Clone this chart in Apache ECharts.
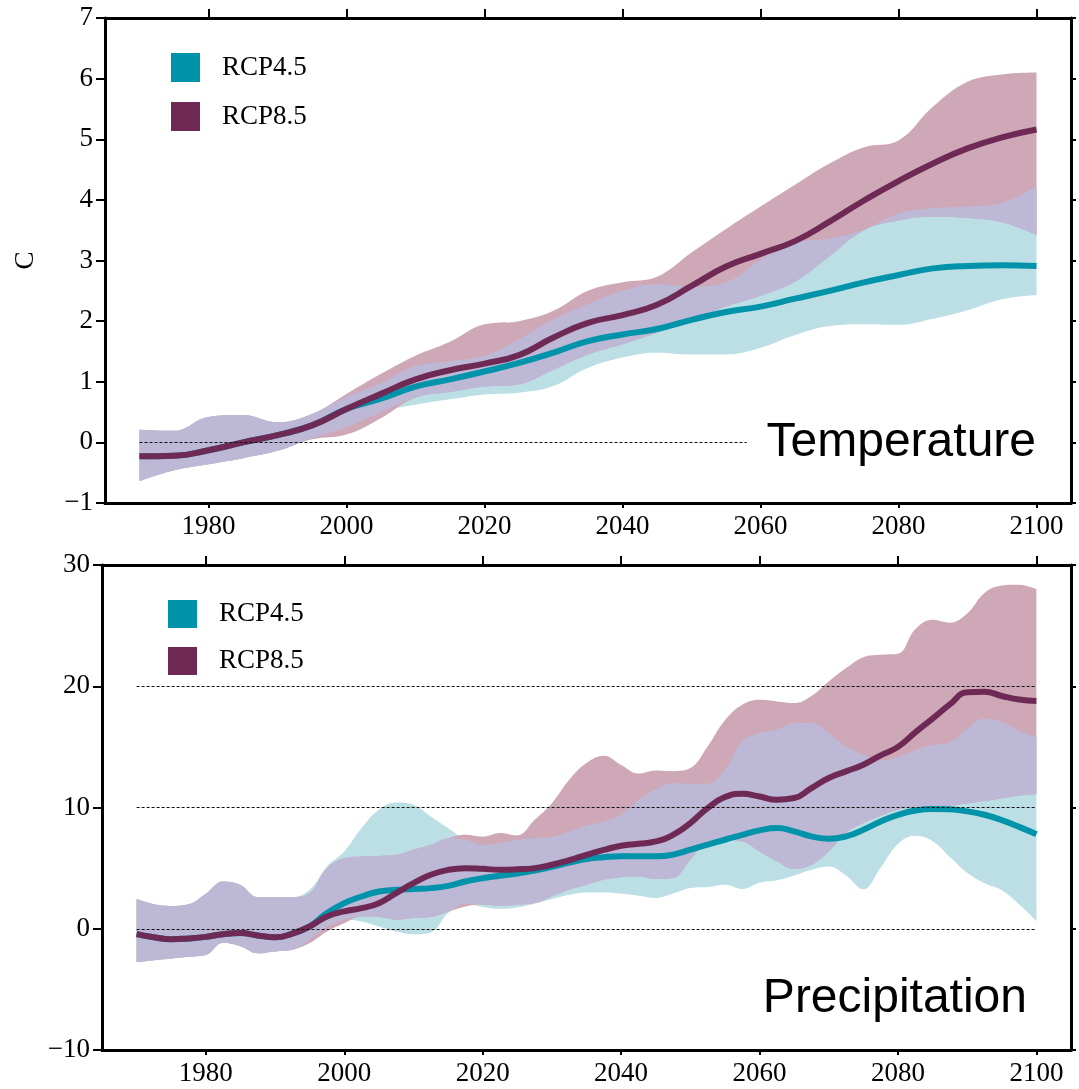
<!DOCTYPE html>
<html>
<head>
<meta charset="utf-8">
<script src="https://cdn.jsdelivr.net/npm/echarts@6/dist/echarts.min.js"></script>
<style>html,body{margin:0;padding:0;background:#fff}#c{width:1079px;height:1089px}</style>
</head>
<body>
<div id="c"></div>
<script>
// ---------- data ----------
const xTicks = [1980, 2000, 2020, 2040, 2060, 2080, 2100];
const tasYTicks = [-1, 0, 1, 2, 3, 4, 5, 6, 7];
const prYTicks = [-10, 0, 10, 20, 30];
const seriesNames = ['RCP4.5', 'RCP8.5'];
const panelTitles = ['Temperature', 'Precipitation'];
const axisNames = ['C', '%'];

const tasYears = [1970,1975,1980,1985,1990,1995,2000,2005,2010,2015,2020,2025,2030,2035,2040,2045,2050,2055,2060,2065,2070,2075,2080,2085,2090,2095,2100];
const tasMean45 = [-0.23,-0.22,-0.13,0.0,0.12,0.28,0.55,0.72,0.92,1.04,1.17,1.31,1.48,1.67,1.78,1.87,2.02,2.15,2.24,2.37,2.5,2.64,2.76,2.87,2.91,2.92,2.91];
const tasMean85 = [-0.23,-0.22,-0.13,0.0,0.12,0.28,0.55,0.8,1.04,1.19,1.3,1.44,1.73,1.97,2.1,2.27,2.58,2.9,3.11,3.32,3.64,3.99,4.31,4.6,4.85,5.03,5.16];
const tasHi45 = [0.21,0.19,0.42,0.45,0.33,0.47,0.75,0.98,1.26,1.34,1.43,1.7,2.03,2.28,2.5,2.61,2.57,2.64,3.01,3.3,3.36,3.51,3.77,3.86,3.89,3.95,4.22];
const tasLo45 = [-0.64,-0.46,-0.36,-0.26,-0.14,0.07,0.25,0.5,0.62,0.71,0.79,0.82,0.93,1.23,1.4,1.48,1.45,1.45,1.56,1.77,1.92,1.95,1.94,2.04,2.18,2.36,2.43];
const tasHi85 = [0.21,0.19,0.42,0.45,0.33,0.47,0.8,1.13,1.43,1.66,1.95,2.0,2.17,2.5,2.64,2.73,3.13,3.52,3.89,4.25,4.6,4.87,4.98,5.54,5.95,6.07,6.1];
const tasLo85 = [-0.64,-0.46,-0.36,-0.26,-0.14,0.05,0.13,0.4,0.74,0.83,0.92,0.96,1.2,1.45,1.62,1.81,2.02,2.24,2.42,2.65,3.07,3.5,3.66,3.72,3.7,3.63,3.42];
const tasRefLines = [[1970, 2058, 0]];

const prYears = [1970,1972.5,1975,1977.5,1980,1982.5,1985,1987.5,1990,1992.5,1995,1997.5,2000,2002.5,2005,2007.5,2010,2012.5,2015,2017.5,2020,2022.5,2025,2027.5,2030,2032.5,2035,2037.5,2040,2042.5,2045,2047.5,2050,2052.5,2055,2057.5,2060,2062.5,2065,2067.5,2070,2072.5,2075,2077.5,2080,2082.5,2085,2087.5,2090,2092.5,2095,2097.5,2100];
const prMean45 = [-0.44,-0.7,-0.87,-0.8,-0.67,-0.45,-0.35,-0.55,-0.7,-0.4,
  0.19,1.29,2.11,2.66,3.07,3.21,3.27,3.35,3.54,3.9,
  4.17,4.37,4.55,4.8,5.1,5.45,5.75,5.9,5.97,5.97,
  5.97,6.11,6.52,6.93,7.34,7.75,8.11,8.3,8.03,7.62,
  7.42,7.62,8.17,8.85,9.39,9.75,9.88,9.85,9.68,9.4,
  8.96,8.4,7.8];
const prMean85 = [-0.44,-0.7,-0.87,-0.8,-0.67,-0.45,-0.35,-0.55,-0.7,-0.4,
  0.19,1.01,1.43,1.7,2.11,2.94,3.76,4.45,4.86,5.0,
  4.94,4.86,4.9,5.0,5.28,5.65,6.1,6.5,6.85,7.01,
  7.2,7.75,8.72,9.95,10.86,11.13,10.91,10.64,10.78,11.6,
  12.43,12.98,13.53,14.3,15.0,16.2,17.33,18.5,19.5,19.55,
  19.2,18.9,18.78];
const prHi45 = [2.45,2.02,1.88,2.02,2.89,3.9,3.61,2.6,2.61,2.61,
  3.21,5.14,6.37,8.3,9.81,10.41,10.22,9.26,8.3,7.33,
  6.92,7.06,7.34,7.47,7.56,8.02,8.49,8.85,9.4,10.6,
  11.5,12.0,11.96,11.96,13.11,15.45,16.14,16.41,16.96,16.96,
  16.14,15.04,14.35,13.87,14.16,14.73,15.17,15.37,16.47,17.34,
  17.05,16.32,15.75];
const prLo45 = [-2.75,-2.6,-2.46,-2.31,-2.17,-1.16,-1.45,-2.02,-1.87,-1.74,
  -0.91,0.19,0.74,0.6,0.19,-0.22,-0.45,-0.3,1.3,2.06,
  1.8,1.65,1.76,2.06,2.45,2.8,3.0,3.0,2.9,2.72,
  2.53,2.9,3.36,3.44,3.63,3.28,3.8,4.0,4.4,4.87,
  5.14,4.4,3.26,5.05,7.0,7.66,7.22,5.92,4.62,3.76,
  3.18,2.02,0.63];
const prHi85 = [2.45,2.02,1.88,2.02,2.89,3.9,3.61,2.6,2.61,2.61,
  2.94,5.0,5.82,5.96,6.01,6.1,6.51,6.92,7.47,7.75,
  7.6,7.9,7.7,8.98,10.36,12.28,13.66,14.26,13.5,12.8,
  13.05,13.0,13.25,15.04,17.2,18.47,18.88,18.75,18.61,19.2,
  20.4,21.5,22.4,22.6,22.68,24.7,25.48,25.25,26.0,27.7,
  28.3,28.37,28.0];
const prLo85 = [-2.75,-2.6,-2.46,-2.31,-2.17,-1.16,-1.45,-2.02,-1.87,-1.74,
  -1.18,-0.22,0.46,1.01,0.96,0.74,0.88,0.96,1.4,1.84,
  2.0,1.89,1.98,2.12,2.66,3.21,3.63,4.04,4.25,4.3,
  4.1,4.18,5.69,7.2,7.34,7.2,6.38,5.56,4.92,5.28,
  6.38,7.89,8.72,9.3,9.82,9.97,10.11,10.17,10.34,10.54,
  10.75,10.98,11.12];
const prRefLines = [[1970, 2100, 0], [1970, 2100, 10], [1970, 2100, 20]];

// ---------- styles ----------
const C45 = '#0093a9', C85 = '#6e2a55';
const B45 = '#bbdfe4', B85 = '#cfa8b7', BOV = '#bdb8d6';
const SERIF = '"Liberation Serif", "Times New Roman", serif';
const SANS = '"Liberation Sans", Arial, sans-serif';

function pairs(xs, ys) { return xs.map((x, i) => [x, ys[i]]); }
// value first, year second: so the stacked dimension is the value (y) one
function pairsYX(xs, ys) { return xs.map((x, i) => [ys[i], x]); }
function minusFmt(v) { return v < 0 ? '\u2212' + (-v) : String(v); }

function band(ax, id, xs, lo, hi, color) {
  const common = {
    type: 'line', xAxisIndex: ax, yAxisIndex: ax, stack: id, stackStrategy: 'all',
    encode: { x: 1, y: 0 },
    symbol: 'none', smooth: 0.4, silent: true, emphasis: { disabled: true },
    lineStyle: { width: 0, opacity: 0 }
  };
  return [
    Object.assign({}, common, { name: id + '-lo', data: pairsYX(xs, lo) }),
    Object.assign({}, common, {
      name: id + '-hi',
      data: pairsYX(xs, hi.map((h, i) => Math.max(0, h - lo[i]))),
      areaStyle: { color: color, opacity: 1 }
    })
  ];
}

function panelSeries(ax, xs, m45, m85, lo45, hi45, lo85, hi85, refs, tag) {
  const loOv = lo45.map((v, i) => Math.max(v, lo85[i]));
  const hiOv = hi45.map((v, i) => Math.min(v, hi85[i]));
  return [].concat(
    band(ax, tag + 'b45', xs, lo45, hi45, B45),
    band(ax, tag + 'b85', xs, lo85, hi85, B85),
    band(ax, tag + 'bov', xs, loOv, hiOv, BOV),
    [
      { type: 'line', name: seriesNames[0], xAxisIndex: ax, yAxisIndex: ax, data: pairs(xs, m45),
        smooth: 0.5, symbol: 'none', color: C45, itemStyle: { color: C45 },
        lineStyle: { color: C45, width: 6 }, emphasis: { disabled: true }, silent: true },
      { type: 'line', name: seriesNames[1], xAxisIndex: ax, yAxisIndex: ax, data: pairs(xs, m85),
        smooth: 0.5, symbol: 'none', color: C85, itemStyle: { color: C85 },
        lineStyle: { color: C85, width: 6 }, emphasis: { disabled: true }, silent: true,
        markLine: {
          silent: true, symbol: 'none', z: 10, label: { show: false },
          lineStyle: { color: '#111', width: 1, type: [3, 2] },
          emphasis: { disabled: true },
          data: refs.map(r => [{ coord: [r[0], r[2]] }, { coord: [r[1], r[2]] }])
        } }
    ]
  );
}

function xAxes(gi) {
  return [
    { type: 'value', gridIndex: gi, min: 1965, max: 2105, position: 'bottom',
      axisLine: { show: true, onZero: false, lineStyle: { color: '#000', width: 3 } },
      axisTick: { show: true, inside: false, length: 5, customValues: xTicks, lineStyle: { color: '#000', width: 2 } },
      axisLabel: { customValues: xTicks, margin: 10, color: '#000', fontFamily: SERIF, fontSize: 27,
        formatter: v => String(v) },
      splitLine: { show: false } },
    { type: 'value', gridIndex: gi, min: 1965, max: 2105, position: 'top',
      axisLine: { show: true, onZero: false, lineStyle: { color: '#000', width: 3 } },
      axisTick: { show: true, inside: false, length: 9, customValues: xTicks, lineStyle: { color: '#000', width: 2 } },
      axisLabel: { show: false }, splitLine: { show: false } }
  ];
}

function yAxes(gi, min, max, ticks, name, nameGap) {
  return [
    { type: 'value', gridIndex: gi, min: min, max: max, position: 'left',
      axisLine: { show: true, onZero: false, lineStyle: { color: '#000', width: 3 } },
      axisTick: { show: true, inside: false, length: 9, customValues: ticks, lineStyle: { color: '#000', width: 2 } },
      axisLabel: { customValues: ticks, margin: 12, color: '#000', fontFamily: SERIF, fontSize: 27, formatter: minusFmt },
      splitLine: { show: false },
      name: name, nameLocation: 'middle', nameGap: nameGap, nameRotate: 90,
      nameTextStyle: { color: '#000', fontFamily: SERIF, fontSize: 27 } },
    { type: 'value', gridIndex: gi, min: min, max: max, position: 'right',
      axisLine: { show: true, onZero: false, lineStyle: { color: '#000', width: 3 } },
      axisTick: { show: true, inside: false, length: 5, customValues: ticks, lineStyle: { color: '#000', width: 2 } },
      axisLabel: { show: false }, splitLine: { show: false } }
  ];
}

function legendAt(left, top, size, gap) {
  return {
    left: left, top: top, orient: 'vertical', padding: 0, icon: 'rect',
    itemWidth: 29, itemHeight: size, itemGap: gap, selectedMode: false,
    itemStyle: { borderWidth: 0 },
    data: [
      { name: seriesNames[0], itemStyle: { color: C45, borderWidth: 0 } },
      { name: seriesNames[1], itemStyle: { color: C85, borderWidth: 0 } }
    ],
    textStyle: { color: '#000', fontFamily: SERIF, fontSize: 27, padding: [0, 0, 0, 17] }
  };
}

const chart = echarts.init(document.getElementById('c'), null, { renderer: 'canvas' });
chart.setOption({
  animation: false,
  backgroundColor: '#fff',
  grid: [
    { left: 105, top: 18, width: 966, height: 485, outerBoundsMode: 'none', containLabel: false },
    { left: 102, top: 565, width: 969, height: 485, outerBoundsMode: 'none', containLabel: false }
  ],
  xAxis: xAxes(0).concat(xAxes(1)),
  yAxis: yAxes(0, -1, 7, tasYTicks, axisNames[0], 66).concat(yAxes(1, -10, 30, prYTicks, axisNames[1], 96)),
  legend: [legendAt(171, 53, 29, 20), legendAt(168, 600, 28, 19)],
  graphic: [
    { type: 'text', x: 1036, y: 443, silent: true,
      style: { text: panelTitles[0], align: 'right', verticalAlign: 'middle', font: '48px ' + SANS, fill: '#000' } },
    { type: 'text', x: 1027, y: 999, silent: true,
      style: { text: panelTitles[1], align: 'right', verticalAlign: 'middle', font: '48px ' + SANS, fill: '#000' } }
  ],
  series: [].concat(
    panelSeries(0, tasYears, tasMean45, tasMean85, tasLo45, tasHi45, tasLo85, tasHi85, tasRefLines, 't'),
    panelSeries(2, prYears, prMean45, prMean85, prLo45, prHi45, prLo85, prHi85, prRefLines, 'p')
  )
});
</script>
</body>
</html>
